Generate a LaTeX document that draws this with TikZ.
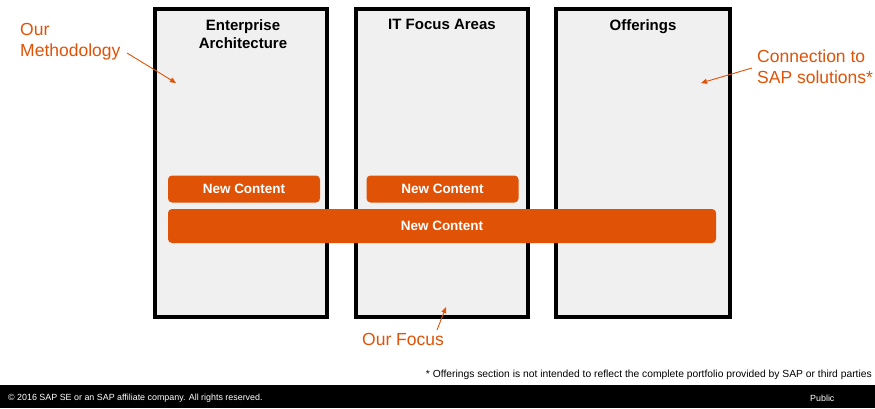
\documentclass[tikz,border=0pt]{standalone}
\usepackage{fontspec}
\setmainfont{Liberation Sans}
\usetikzlibrary{arrows.meta}
\definecolor{saporange}{HTML}{E05206}
\definecolor{boxgray}{HTML}{F0F0F0}
\tikzset{
  column/.style={draw=black, line width=4pt, fill=boxgray},
  coltitle/.style={font=\fontsize{15}{18.5}\selectfont\bfseries, align=center, anchor=north, inner sep=0pt},
  content/.style={fill=saporange, rounded corners=4pt, text=white, font=\fontsize{13.5}{16}\selectfont\bfseries, inner sep=0pt},
  callout/.style={text=saporange, font=\fontsize{17.5}{21}\selectfont, align=left, inner sep=0pt},
  pointer/.style={draw=saporange, line width=0.9pt, -{Triangle[length=6pt,width=5pt]}},
}
\begin{document}
\begin{tikzpicture}[x=1pt,y=-1pt]
\useasboundingbox (0,0) rectangle (875,408);
% columns
\draw[column] (155,9) rectangle (327,317);
\draw[column] (356,9) rectangle (528,317);
\draw[column] (556,9) rectangle (729.5,317);
\coordinate (c1top) at (243,19);
\coordinate (c2top) at (442,19);
\coordinate (c3top) at (643,19);
\node[coltitle] (t1) at (c1top) {Enterprise\\Architecture};
\node[coltitle] (t2) at (c2top) {IT Focus Areas};
\node[coltitle] (t3) at (c3top) {Offerings};
% content bars
\node[content, minimum width=152pt, minimum height=27pt] (n1) at (244,189) {New Content};
\node[content, minimum width=152pt, minimum height=27pt] (n2) at (442.5,189) {New Content};
\node[content, minimum width=548pt, minimum height=34pt] (n3) at (442,226) {New Content};
% callouts
\node[callout, anchor=north west] (m) at (20,23) {Our\\Methodology};
\node[callout, anchor=north west] (s) at (757,50) {Connection to\\SAP solutions*};
\node[callout, anchor=north west] (f) at (362,333) {Our Focus};
\coordinate (mtip) at (176,83);
\coordinate (stip) at (701,83);
\coordinate (ftip) at (446,307);
\coordinate (mstart) at (127,53);
\coordinate (sstart) at (752,68);
\coordinate (fstart) at (437,330);
\draw[pointer] (mstart) -- (mtip);
\draw[pointer] (sstart) -- (stip);
\draw[pointer] (fstart) -- (ftip);
% footnote
\node[anchor=east, inner sep=0pt, font=\fontsize{10.3}{12}\selectfont] (note) at (872,375) {* Offerings section is not intended to reflect the complete portfolio provided by SAP or third parties};
% footer
\fill[black] (0,385) rectangle (875,408);
\node[anchor=west, inner sep=0pt, text=white, font=\fontsize{8.9}{10.5}\selectfont] (copy) at (8,398) {\textcopyright{} 2016 SAP SE or an SAP affiliate company. All rights reserved.};
\node[anchor=west, inner sep=0pt, text=white, font=\fontsize{8.9}{10.5}\selectfont] (pub) at (810,398) {Public};
\end{tikzpicture}
\end{document}
